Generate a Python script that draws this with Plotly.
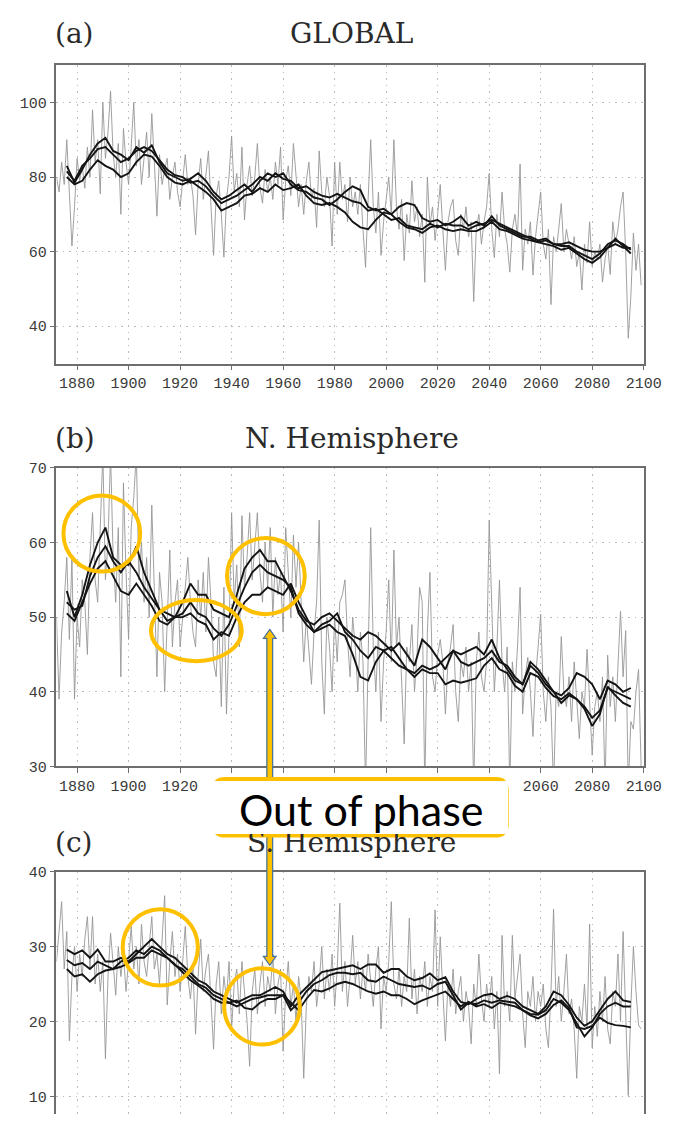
import plotly.graph_objects as go

W, H = 688, 1124

# ---------------------------------------------------------------- data
years = list(range(1872, 2100))            # annual values
smooth_years = list(range(1876, 2096, 3))  # running-mean curves

global_annual = [
    80, 76, 84, 78, 90, 75, 61.5, 72, 85, 79,
    83, 77, 88, 80, 98, 84, 90, 75.5, 100, 85,
    92, 103, 86, 80, 89, 70, 93, 84, 78, 88,
    100, 83, 90, 78, 85, 92, 80, 97, 84, 69.5,
    86, 78, 82, 85, 74, 80, 84, 76, 72, 79,
    86, 78, 80, 75, 64.5, 78, 85, 74, 80, 87,
    72, 59, 75, 79, 70, 58.5, 74, 80, 91, 76,
    81, 72, 88, 68.5, 78, 83, 75, 80, 89, 77,
    73, 82, 76, 80, 74, 84, 78, 88, 68.5, 79,
    83, 75, 89, 80, 72, 78, 70, 79, 84, 74,
    77, 66.5, 87, 76, 72, 80, 75, 61.5, 84, 70,
    84, 74, 78, 68, 80, 72, 76, 70, 78, 66,
    55.8, 74, 90, 72, 65, 76, 59, 68, 74, 80,
    70, 90, 72, 66, 74, 57.6, 70, 65, 79, 68,
    72, 64, 70, 51.8, 80, 67, 72, 63, 70, 78,
    66, 55, 68, 72, 74, 63, 59, 70, 66, 72,
    64, 68, 46.6, 66, 70, 62, 68, 72, 81, 66,
    58.4, 70, 64, 76, 66, 62, 54.5, 66, 70, 64,
    83.5, 55, 66, 62, 68, 53.7, 64, 70, 76, 62,
    58, 66, 45.8, 64, 60, 66, 72.9, 60, 66, 62,
    58, 64, 56, 60, 49.7, 62, 57, 68, 56, 60,
    58, 62, 51.8, 58, 62, 53.9, 68, 62, 66, 72,
    76, 60, 36.8, 48, 65, 55, 62, 51,
]

global_smooth_1 = [
    83, 78.5, 82, 86, 89, 90.5, 87, 86, 84.5, 88, 86.5, 88.5, 84, 81, 80,
    79, 79.5, 81, 79, 76, 74, 75, 76.5, 78, 76, 79, 81, 80, 81, 78,
    76.5, 76, 74.5, 74, 72.5, 74, 76, 77.5, 76.5, 72, 71, 71.5, 70, 72,
    73, 72.5, 69, 68, 68.5, 67, 68, 69.5, 67, 68, 67, 69.5, 67, 66, 65,
    64, 64, 63, 63.5, 62, 62, 62.5, 61.5, 60.5, 60, 60, 61, 62, 61, 61,
]
global_smooth_2 = [
    80, 78, 79, 82, 84.5, 83, 82, 80, 81, 84, 86, 85.5, 83, 80, 78.5,
    78, 79, 77.5, 76, 74, 71, 72, 73, 75, 75.5, 77, 76, 78, 76.5, 77,
    78, 75, 73, 72.5, 73, 72, 70.5, 68, 66.5, 66, 68.5, 70.5, 70, 68,
    66.5, 66, 65, 66.5, 67, 66, 65.5, 66, 65.5, 65.5, 66.5, 68, 66, 65.5,
    64.5, 63.5, 63, 62.5, 62, 61.5, 60.5, 61, 59.5, 58, 57, 58.5, 61,
    63.5, 61.5, 59.5,
]
global_smooth_3 = [
    81.5, 79, 83, 85, 87.5, 88, 86, 84, 85, 87, 88, 87, 84.5, 82, 80.5,
    80, 78.5, 79, 77.5, 75, 73, 74, 75, 76.5, 78, 80, 79, 81, 79.5, 79,
    77, 77.5, 76, 75, 74.5, 75.5, 74.5, 73.5, 73, 71, 71.5, 70, 68.5, 69,
    67, 66.5, 66, 67.5, 66.5, 67.5, 67, 67, 66, 67, 67.5, 68.5, 67.5,
    66.5, 65.5, 64.5, 63.5, 62.5, 63, 62, 61.5, 61.5, 60, 59, 58, 59.5,
    62, 63, 62, 60.5,
]

nh_annual = [
    50, 39, 48, 52, 58, 47, 58, 39, 50, 46,
    55, 52, 45, 58, 64, 55, 52, 62, 72, 55,
    60, 72, 58, 52, 62, 42, 68, 56, 47, 62,
    66, 72, 55, 60, 52, 58, 50, 65, 54, 42,
    56, 52, 40, 50, 59, 46, 52, 55, 46, 50,
    54, 58, 52, 48, 46, 55, 50, 56, 48, 58,
    52, 44, 42, 50, 38, 54, 37, 48, 64, 52,
    57, 46, 63.6, 54, 58, 64, 55, 60, 64, 56,
    52, 60, 54, 62, 50, 58, 53, 56, 48, 62,
    56, 50, 61, 54, 60, 52, 44, 50, 46, 41,
    48, 52, 63, 44, 37, 50, 46, 40, 50, 44,
    52, 53, 55, 47, 42, 50, 46, 40, 48, 44,
    27, 46, 62, 46, 40, 48, 36, 44, 48, 55,
    44, 59, 46, 50, 42, 33, 46, 44, 49, 40,
    45, 54, 52, 27, 48, 56, 42, 40, 45, 47,
    44, 37, 44, 46, 49, 40, 36, 44, 42, 46,
    40, 44, 27, 44, 48, 42, 40, 44, 63, 50,
    40, 46, 55, 44, 40, 46, 27, 44, 40, 46,
    54, 37, 42, 44.6, 40, 34, 42, 46, 50.4, 40,
    36, 42, 38, 27, 40, 38, 47.4, 40, 38, 42,
    36, 44, 38, 33.7, 40, 38, 45.7, 38, 31.5, 38,
    40, 36, 42, 27, 44.9, 38, 42, 36, 44, 50.8,
    42, 48.2, 27, 36, 35, 40, 43, 30,
]

nh_smooth_1 = [
    53.5, 50, 53, 57, 60, 62, 58, 57, 57, 59.5, 56, 53.5, 51, 50.5, 50,
    52, 54.5, 53, 53, 51, 50.5, 50, 53, 56.5, 58, 59, 57.5, 57.5, 55.5,
    53.5, 51, 49.5, 49, 50, 50.5, 49.5, 48.5, 47.5, 47, 48, 47.5, 46.5,
    45.5, 46.5, 45, 43.5, 47, 46, 44.5, 43, 45.5, 45, 45.5, 46, 45, 47,
    44.5, 43, 41.5, 41, 44, 43, 41.5, 40, 39.5, 40.5, 42.5, 42, 41, 39,
    41.5, 41, 40, 40.5,
]
nh_smooth_2 = [
    52, 51, 51.5, 55.5, 58, 59.5, 57.5, 56, 57.5, 56, 54, 52.5, 51, 49.5,
    50, 50.5, 52, 50.5, 50, 48.5, 47.5, 49, 51.5, 54, 56, 57, 56, 55.5,
    55, 54, 50.5, 49, 48, 49, 49.5, 50.5, 48, 47, 45.5, 44.5, 46, 45.5,
    46, 44.5, 43, 42.5, 43.5, 43, 43.5, 44.5, 45.5, 44, 43.5, 44, 44.5,
    45.5, 44, 43.5, 42, 41, 43.5, 42.5, 41, 40, 38.5, 39.5, 39, 38, 36.5,
    37.5, 40.5, 40, 39.5, 39,
]
nh_smooth_3 = [
    50.5, 49.5, 52, 54.5, 56.5, 57.5, 55.5, 53.5, 53, 54.5, 53, 51.5, 49.5,
    49, 50, 50, 50.5, 49.5, 49, 47, 48, 47.5, 50, 52, 53, 53, 54, 53.5, 53,
    54.5, 52, 50, 48, 48.5, 49, 48, 47.5, 45, 42, 41.5, 44, 45.5, 44.5,
    43.5, 43, 42, 43, 42.5, 42.5, 41, 41.5, 41.2, 41.5, 41.8, 43.5, 44.5,
    43, 42.5, 40.8, 40, 42.5, 42, 40.5, 39.4, 39, 39.8, 39, 37.7, 35.4, 37,
    40.7, 39.5, 38.5, 38,
]

sh_annual = [
    28, 32, 36, 27, 32, 17.4, 26, 30, 24, 29,
    26, 31, 34, 27, 34, 25, 29, 24, 28, 15,
    26, 31.8, 27, 23.5, 30, 26, 29, 24, 28, 32.7,
    27, 30, 25, 33, 28, 26, 30, 34, 27, 29,
    25, 31, 36.8, 22.2, 28, 32, 26, 29, 24, 28,
    32.7, 26, 23, 27, 18.3, 26, 31, 24, 27, 29,
    22, 16.3, 25, 28, 21, 26, 23, 28, 19, 25,
    27, 21, 28, 24, 20, 14, 24, 27, 21, 25,
    28, 22, 26, 24, 29, 21, 25, 27, 16, 24,
    28, 22, 25, 20, 26, 23, 12.4, 22, 26, 24,
    28, 22, 25, 30, 23, 27, 24, 29, 22, 27,
    35.8, 24, 28, 22, 26, 31.5, 25, 28, 23, 27,
    24, 29, 25, 22, 27, 30, 19, 26, 24, 28,
    36, 25, 23, 27, 22, 26, 24, 33.8, 23, 27,
    21, 26, 24, 28, 22, 26, 24, 34.9, 22, 31.3,
    24, 17.4, 25, 22, 27, 21, 24, 26, 20, 24,
    22, 17, 25, 22, 29, 23, 20, 25, 22, 26,
    19, 24, 13, 31.5, 22, 24, 20, 31.5, 23, 26,
    29, 21, 16.5, 24, 22, 26, 20, 24, 22, 25,
    19, 16.5, 24, 35, 22, 26, 20, 24, 29, 21,
    23, 19, 12.4, 22, 20, 25, 19, 33, 16.5, 22,
    18, 24, 20, 26, 19, 17, 24, 22, 29, 20,
    32, 21, 10.1, 22, 30, 24, 19.5, 19,
]

sh_smooth_1 = [
    29.6, 29, 29.5, 28.5, 29.6, 28, 28, 28.5, 28, 29, 30, 31, 30, 29, 28.5,
    27.5, 26.6, 25.5, 25, 24, 23.5, 23, 22.5, 23, 23.5, 23.5, 24, 24.6, 24,
    22, 23.5, 24.5, 25.5, 26.6, 26.8, 27, 27.2, 27.5, 27, 27.6, 27.6, 26.5,
    27, 27, 26, 25.5, 25.8, 26.4, 25.5, 25.9, 24, 22.6, 22.3, 23, 23.5,
    23.7, 23, 23.4, 23, 22, 21.5, 21, 22, 24, 23.5, 22.2, 20.5, 19.4, 20,
    21.5, 23, 24, 22.8, 22.6,
]
sh_smooth_2 = [
    28.2, 27.5, 27.8, 27, 28, 27.5, 27, 28, 28.5, 29.5, 29, 30, 29.5, 28.5,
    27.5, 27, 26, 25, 24.5, 23.5, 23, 22.5, 22, 22.5, 23, 23.2, 23.5, 23.5,
    23.5, 21.5, 22.5, 24, 25, 25.5, 26.2, 26.5, 26.5, 26.3, 26.5, 25.5,
    25.3, 26, 25.5, 25, 24.8, 24.6, 24.8, 24.3, 25, 25.3, 23.5, 21.6, 22.5,
    22.3, 22.8, 22.5, 22.8, 22.6, 22.5, 21.5, 21, 20.9, 21.5, 23, 22.5,
    21.5, 19.8, 18, 19.2, 21, 22, 22.5, 22, 22,
]
sh_smooth_3 = [
    27, 26, 26.3, 25.3, 26.3, 26.8, 27, 27.3, 27.8, 28.5, 28.5, 29.5, 29,
    28.5, 27.6, 26.5, 25.5, 24.8, 24, 23, 22.5, 22.5, 22.8, 21.8, 21.6,
    22.5, 23, 23, 23.5, 22.5, 21.5, 23, 24.2, 24, 24.4, 25, 25.3, 25, 24.5,
    24, 23.7, 24, 23.5, 23.5, 23, 22.3, 22.8, 23.2, 23.5, 24, 23, 22, 22.6,
    22, 22.3, 21.8, 22.5, 22.2, 22, 21.5, 20.8, 20.4, 21, 22.2, 22.8, 21.8,
    19.2, 19, 19.4, 20.5, 19.8, 19.5, 19.4, 19.2,
]

x_ticks = [1880, 1900, 1920, 1940, 1960, 1980, 2000, 2020, 2040, 2060, 2080, 2100]
panel_letters = ["(a)", "(b)", "(c)"]
panel_titles = ["GLOBAL", "N. Hemisphere", "S. Hemisphere"]
y_ticks = [[40, 60, 80, 100], [30, 40, 50, 60, 70], [10, 20, 30, 40]]
y_ranges = [[30, 110], [30, 70], [7.63, 40]]

# highlighted episodes: (panel index, centre year, half-width yrs, centre value, half-height)
highlights = [
    (1, 1889.6, 14.9, 61.2, 5.1),
    (1, 1953.3, 15.1, 55.5, 5.1),
    (1, 1926.3, 17.6, 48.2, 4.1),
    (2, 1912.3, 14.6, 29.9, 5.1),
    (2, 1951.8, 14.7, 22.0, 5.1),
]
callout_text = "Out of phase"

# ---------------------------------------------------------------- layout helpers
def px(xp):
    return xp / W


def py(yp):
    return 1 - yp / H


X_LEFT, X_RIGHT = 58, 661
panel_px = [(59, 362), (468, 771), (878, 1124)]   # top, bottom of each plot box

GREY = "#969696"
BLACK = "#141414"
FRAME = "#6e6e6e"
GRID = "#b9b9b9"
GOLD = "#FFC000"
TICK_FONT = dict(family="Liberation Mono", size=15, color="#3a3a3a")
TITLE_FONT = dict(family="DejaVu Serif", size=28, color="#2a2a2a")

fig = go.Figure()

series = [
    (global_annual, [global_smooth_1, global_smooth_2, global_smooth_3]),
    (nh_annual, [nh_smooth_1, nh_smooth_2, nh_smooth_3]),
    (sh_annual, [sh_smooth_1, sh_smooth_2, sh_smooth_3]),
]

for i, (annual, smooths) in enumerate(series):
    ax = "" if i == 0 else str(i + 1)
    fig.add_trace(go.Scatter(x=years, y=annual, mode="lines",
                             line=dict(color=GREY, width=0.9),
                             xaxis="x" + ax, yaxis="y" + ax, showlegend=False,
                             hoverinfo="skip"))
    for s in smooths:
        fig.add_trace(go.Scatter(x=smooth_years, y=s, mode="lines",
                                 line=dict(color=BLACK, width=1.9),
                                 xaxis="x" + ax, yaxis="y" + ax, showlegend=False,
                                 hoverinfo="skip"))

layout = dict(
    width=W, height=H,
    margin=dict(l=0, r=0, t=0, b=0),
    paper_bgcolor="white", plot_bgcolor="white",
    showlegend=False,
)

for i in range(3):
    ax = "" if i == 0 else str(i + 1)
    top, bottom = panel_px[i]
    last = i == 2
    layout["xaxis" + ax] = dict(
        domain=[px(X_LEFT), px(X_RIGHT)],
        anchor="y" + ax,
        range=[1872, 2100],
        tickvals=x_ticks,
        ticks="" if last else "outside", ticklen=5, tickcolor=FRAME,
        showticklabels=not last,
        tickfont=TICK_FONT,
        showline=True, linecolor=FRAME, linewidth=1.5,
        mirror=not last,
        side="top" if last else "bottom",
        showgrid=True, gridcolor=GRID, griddash="1.5px,5px", gridwidth=1.3,
        zeroline=False, fixedrange=True,
    )
    layout["yaxis" + ax] = dict(
        domain=[py(bottom), py(top)],
        anchor="x" + ax,
        range=y_ranges[i],
        tickvals=y_ticks[i],
        ticks="outside", ticklen=5, tickcolor=FRAME,
        tickfont=TICK_FONT,
        showline=True, linecolor=FRAME, linewidth=1.5, mirror=True,
        showgrid=True, gridcolor=GRID, griddash="1.5px,5px", gridwidth=1.3,
        zeroline=False, fixedrange=True,
    )

fig.update_layout(**layout)

# ---------------------------------------------------------------- titles
title_rows = [27, 438, 848]
annotations = []
for i in range(3):
    annotations.append(dict(text=panel_letters[i], x=px(54), y=py(title_rows[i]),
                            xref="paper", yref="paper", xanchor="left",
                            yanchor="middle", showarrow=False, font=TITLE_FONT))
    annotations.append(dict(text=panel_titles[i], x=px(361), y=py(title_rows[i]),
                            xref="paper", yref="paper", xanchor="center",
                            yanchor="middle", showarrow=False, font=TITLE_FONT))

# call-out box: a white patch that hides what lies underneath, then the text
box_l, box_r, box_t, box_b = 220, 520, 784, 841
annotations.append(dict(text=" ", x=px((box_l + box_r) / 2),
                        y=py((box_t + box_b) / 2),
                        xref="paper", yref="paper", xanchor="center",
                        yanchor="middle", showarrow=False,
                        width=box_r - box_l - 4, height=box_b - box_t - 4,
                        bgcolor="white", borderpad=0, borderwidth=0,
                        font=dict(size=10)))
annotations.append(dict(text=callout_text, x=px(371), y=py(815),
                        xref="paper", yref="paper", xanchor="center",
                        yanchor="middle", showarrow=False,
                        font=dict(family="Lato", size=43, color="black")))

shapes = []
# yellow circles around the highlighted episodes
for panel, cx, rx, cy, ry in highlights:
    ax = "" if panel == 0 else str(panel + 1)
    shapes.append(dict(type="circle", xref="x" + ax, yref="y" + ax,
                       x0=cx - rx, x1=cx + rx, y0=cy - ry, y1=cy + ry,
                       line=dict(color=GOLD, width=4), layer="above"))

# double-headed block arrow linking the NH and SH episodes
ax_c, tip_t, tip_b = 277, 632, 973
head_h, head_w, shaft_w = 9, 6.5, 3
pts = [
    (ax_c, tip_t), (ax_c + head_w, tip_t + head_h), (ax_c + shaft_w, tip_t + head_h),
    (ax_c + shaft_w, tip_b - head_h), (ax_c + head_w, tip_b - head_h), (ax_c, tip_b),
    (ax_c - head_w, tip_b - head_h), (ax_c - shaft_w, tip_b - head_h),
    (ax_c - shaft_w, tip_t + head_h), (ax_c - head_w, tip_t + head_h),
]
path = "M " + " L ".join(f"{px(a):.5f},{py(b):.5f}" for a, b in pts) + " Z"
shapes.append(dict(type="path", xref="paper", yref="paper", path=path,
                   fillcolor=GOLD, line=dict(color="#41719C", width=1.2),
                   layer="above"))

# rounded frame of the call-out box
r = 11
rx_, ry_ = r / W, r / H
L, R, T, B = px(box_l), px(box_r), py(box_t), py(box_b)
rounded = (f"M {L + rx_},{T} L {R - rx_},{T} Q {R},{T} {R},{T - ry_} "
           f"L {R},{B + ry_} Q {R},{B} {R - rx_},{B} L {L + rx_},{B} "
           f"Q {L},{B} {L},{B + ry_} L {L},{T - ry_} Q {L},{T} {L + rx_},{T} Z")
shapes.append(dict(type="path", xref="paper", yref="paper", path=rounded,
                   line=dict(color=GOLD, width=4.5), layer="above"))

fig.update_layout(annotations=annotations, shapes=shapes)
fig.write_html("out.html")
